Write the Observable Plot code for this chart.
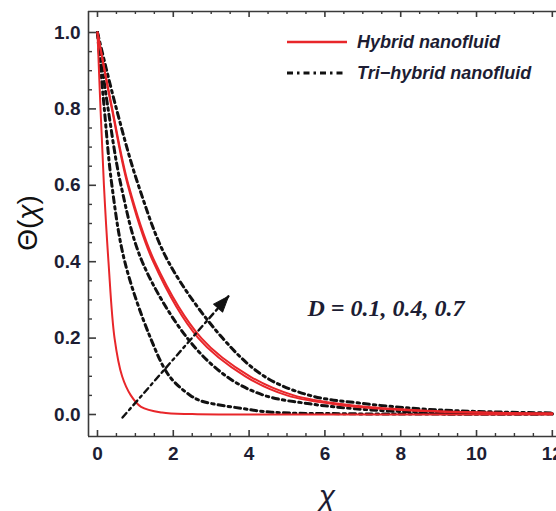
<!DOCTYPE html>
<html><head><meta charset="utf-8">
<script src="https://cdn.jsdelivr.net/npm/d3@7"></script>
<script src="https://cdn.jsdelivr.net/npm/@observablehq/plot@0.6"></script>
<style>
html,body{margin:0;padding:0;background:#fff;}
#chart{position:relative;width:556px;height:511px;overflow:hidden;}
</style></head><body><div id="chart"></div>
<script>
// ---------- data ----------
const seriesLabels = ["Hybrid nanofluid", "Tri\u2212hybrid nanofluid"];
const dValues = [0.1, 0.4, 0.7];
const annotationText = "D = 0.1, 0.4, 0.7";
const xTickLabels = [0, 2, 4, 6, 8, 10, 12];
const yTickLabels = [0.0, 0.2, 0.4, 0.6, 0.8, 1.0];

// Hybrid nanofluid (red), D = 0.1, 0.4, 0.7
const hybridD01X = [0, 0.08, 0.17, 0.29, 0.45, 0.65, 0.88, 1.15, 1.7, 2.5, 3.5, 12];
const hybridD01T = [1, 0.8, 0.6, 0.4, 0.2, 0.1, 0.05, 0.02, 0.005, 0.001, 0, 0];
const hybridD04X = [0, 0.38, 0.8, 1.47, 2.66, 3.9, 5.0, 6.4, 8.0, 10.0, 12];
const hybridD04T = [1, 0.8, 0.6, 0.4, 0.2, 0.1, 0.05, 0.025, 0.012, 0.005, 0.002];
const hybridD07X = [0, 0.39, 0.82, 1.51, 2.74, 4.02, 5.18, 6.65, 8.3, 10.3, 12];
const hybridD07T = [1, 0.8, 0.6, 0.4, 0.2, 0.1, 0.05, 0.025, 0.012, 0.005, 0.003];

// Tri-hybrid nanofluid (black dash-dot), D = 0.1, 0.4, 0.7
const triD01X = [0, 0.18, 0.38, 0.72, 1.4, 1.9, 2.45, 2.75, 3.8, 4.6, 6.5, 9, 12];
const triD01T = [1, 0.8, 0.6, 0.4, 0.2, 0.1, 0.05, 0.035, 0.016, 0.006, 0.002, 0.001, 0.001];
const triD04X = [0, 0.28, 0.62, 1.18, 2.37, 3.4, 4.4, 5.6, 6.8, 8.5, 10.5, 12];
const triD04T = [1, 0.8, 0.6, 0.4, 0.2, 0.1, 0.05, 0.028, 0.015, 0.006, 0.003, 0.002];
const triD07X = [0, 0.5, 1.08, 1.87, 3.3, 4.4, 5.6, 6.9, 8.5, 10, 12];
const triD07T = [1, 0.8, 0.6, 0.4, 0.2, 0.1, 0.05, 0.03, 0.015, 0.008, 0.004];

// arrow showing increasing D
const arrowX = [0.66, 3.46];
const arrowT = [-0.008, 0.31];
// annotation anchor
const annotX = [5.54];
const annotT = [0.277];

// ---------- build tables ----------
function rows(fluid, d, xs, ts) { return xs.map((x, i) => ({fluid, d, key: fluid + d, x, t: ts[i]})); }
const hybridRows = [
  ...rows(seriesLabels[0], dValues[0], hybridD01X, hybridD01T),
  ...rows(seriesLabels[0], dValues[1], hybridD04X, hybridD04T),
  ...rows(seriesLabels[0], dValues[2], hybridD07X, hybridD07T)
];
const triRows = [
  ...rows(seriesLabels[1], dValues[0], triD01X, triD01T),
  ...rows(seriesLabels[1], dValues[1], triD04X, triD04T),
  ...rows(seriesLabels[1], dValues[2], triD07X, triD07T)
];
const arrowRows = arrowX.map((x, i) => ({x, t: arrowT[i]}));

const W = 556, H = 511, mL = 88, mR = 0, mT = 11, mB = 75;
const xDomain = [-0.237, 12.11];
const yDomain = [-0.0576, 1.055];
const plotW = W - mL - mR, plotH = H - mT - mB;
const xMinor = d3.range(0, 12.26, 0.5).filter(v => Math.abs(v % 2) > 1e-9);
const yMinor = d3.range(0.05, 1.0, 0.05).filter(v => Math.abs(Math.round(v * 100) % 20) > 1e-9);

const RED = "#e8262a";
const INK = "#1d1d33";
const AX = "#3a3a3a";
const DASH = "6,4,2.5,4";
const SANS = "Liberation Sans, Arial, sans-serif";

const xs = Plot.scale({x: {domain: xDomain, range: [mL, W - mR]}});
const ys = Plot.scale({y: {domain: yDomain, range: [H - mB, mT]}});
const ang = Math.atan2(xs.apply(arrowX[1]) - xs.apply(arrowX[0]), -(ys.apply(arrowT[1]) - ys.apply(arrowT[0]))) * 180 / Math.PI;

const headShape = {
  draw(ctx, l, r) {
    ctx.moveTo(0, -l);
    ctx.lineTo(r, -l + 16);
    ctx.lineTo(-r, -l + 16);
    ctx.closePath();
  }
};

const chart = Plot.plot({
  width: W, height: H,
  marginLeft: mL, marginRight: mR, marginTop: mT, marginBottom: mB,
  style: {background: "#fff", overflow: "visible"},
  x: {domain: xDomain},
  y: {domain: yDomain},
  marks: [
    // frame lines
    Plot.ruleX([xDomain[0]], {stroke: AX, strokeWidth: 1.6}),
    Plot.ruleY([yDomain[0]], {stroke: AX, strokeWidth: 1.6}),
    Plot.ruleY([yDomain[1]], {stroke: AX, strokeWidth: 1.6}),
    // ticks
    Plot.tickY(yTickLabels, {y: d => d, insetRight: plotW - 8, stroke: AX, strokeWidth: 1.6}),
    Plot.tickY(yMinor, {y: d => d, insetRight: plotW - 4, stroke: AX, strokeWidth: 1.4}),
    Plot.tickX(xTickLabels, {x: d => d, insetTop: plotH - 6, stroke: AX, strokeWidth: 1.6}),
    Plot.tickX(xMinor, {x: d => d, insetTop: plotH - 3, stroke: AX, strokeWidth: 1.4}),
    Plot.tickX(xTickLabels, {x: d => d, insetBottom: plotH - 6, stroke: AX, strokeWidth: 1.6}),
    Plot.tickX(xMinor, {x: d => d, insetBottom: plotH - 3, stroke: AX, strokeWidth: 1.4}),
    // tick labels
    Plot.axisY(yTickLabels, {tickSize: 0, tickPadding: 8, tickFormat: d3.format(".1f"), fontSize: 19, fontWeight: "bold", fontFamily: SANS, fill: INK, label: null}),
    Plot.axisX(xTickLabels, {tickSize: 0, tickPadding: 10, tickFormat: d3.format("d"), fontSize: 19, fontWeight: "bold", fontFamily: SANS, fill: INK, label: null}),
    // curves
    Plot.line(triRows, {x: "x", y: "t", z: "key", stroke: "#111", strokeWidth: 3, strokeDasharray: DASH, curve: "catmull-rom", clip: true}),
    Plot.line(hybridRows, {x: "x", y: "t", z: "key", stroke: RED, strokeWidth: 2, curve: "catmull-rom", clip: true}),
    // arrow
    Plot.line(arrowRows, {x: "x", y: "t", stroke: "#111", strokeWidth: 2.4, strokeDasharray: DASH}),
    Plot.vector([arrowRows[1]], {x: "x", y: "t", length: 16, r: 6, rotate: ang, anchor: "end", shape: headShape, fill: "#111", stroke: "#111", strokeWidth: 1}),
    // annotation
    Plot.text(annotX.map((x, i) => ({x, t: annotT[i], s: annotationText})), {x: "x", y: "t", text: "s", textAnchor: "start", fontFamily: "Liberation Serif, Times New Roman, serif", fontStyle: "italic", fontWeight: "bold", fontSize: 24, fill: INK})
  ]
});

const svg = d3.select(chart);
// y title
const yt = svg.append("text")
  .attr("transform", "translate(27,223) rotate(-90)")
  .attr("text-anchor", "middle").attr("dominant-baseline", "central")
  .attr("font-family", SANS).attr("font-size", 28).attr("fill", "#111");
yt.append("tspan").text("\u0398(");
yt.append("tspan").attr("font-style", "italic").text("\u03c7");
yt.append("tspan").text(")");
// x title
svg.append("text").attr("x", 327).attr("y", 495)
  .attr("text-anchor", "middle").attr("dominant-baseline", "central")
  .attr("font-family", SANS).attr("font-style", "italic")
  .attr("font-size", 30).attr("fill", INK).text("\u03c7");
// legend
const lg = svg.append("g");
lg.append("line").attr("x1", 287).attr("x2", 347).attr("y1", 42).attr("y2", 42).attr("stroke", RED).attr("stroke-width", 2.5);
lg.append("line").attr("x1", 287).attr("x2", 345).attr("y1", 73).attr("y2", 73).attr("stroke", "#111").attr("stroke-width", 3.2).attr("stroke-dasharray", DASH);
[[seriesLabels[0], 42], [seriesLabels[1], 73]].forEach(([t, y]) => {
  lg.append("text").attr("x", 357).attr("y", y).attr("dominant-baseline", "central")
    .attr("text-anchor", "start")
    .attr("font-family", SANS).attr("font-style", "italic").attr("font-weight", "bold")
    .attr("font-size", 18).attr("fill", INK).text(t);
});

document.getElementById("chart").appendChild(chart);
</script></body></html>
